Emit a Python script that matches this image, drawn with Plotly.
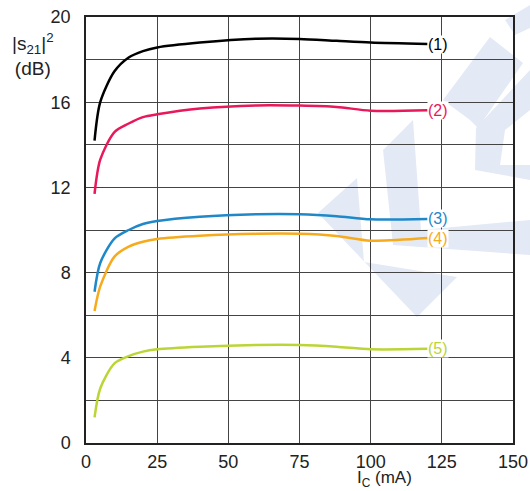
import plotly.graph_objects as go

# Data
ic = [3, 5, 10, 15, 20, 25, 40, 60, 75, 88, 100, 120]
s1 = [14.2, 16.0, 17.45, 18.1, 18.4, 18.57, 18.8, 18.98, 18.97, 18.88, 18.8, 18.73]
s2 = [11.7, 13.3, 14.6, 15.0, 15.3, 15.43, 15.7, 15.85, 15.84, 15.78, 15.6, 15.62]
s3 = [7.1, 8.45, 9.6, 10.0, 10.28, 10.42, 10.62, 10.74, 10.74, 10.65, 10.5, 10.52]
s4 = [6.2, 7.35, 8.75, 9.22, 9.45, 9.58, 9.73, 9.82, 9.82, 9.72, 9.5, 9.62]
s5 = [1.2, 2.56, 3.74, 4.08, 4.29, 4.4, 4.52, 4.6, 4.6, 4.52, 4.4, 4.42]
series = [s1, s2, s3, s4, s5]
labels = ["(1)", "(2)", "(3)", "(4)", "(5)"]
colors = ["#000000", "#e8185a", "#1f88c9", "#f7ab1c", "#bcd536"]
x_ticks = [0, 25, 50, 75, 100, 125, 150]
y_ticks = [0, 4, 8, 12, 16, 20]

FONT = "Liberation Sans, Arial, sans-serif"
fig = go.Figure()

# faint watermark (decoration), pixel -> paper conversion
L, R, T, B = 86, 513, 17, 443
def P(px, py):
    return (px - L) / (R - L), (B - py) / (B - T)

def path(pts):
    s = ""
    for i, (px, py) in enumerate(pts):
        x, y = P(px, py)
        s += ("M" if i == 0 else "L") + f"{x:.4f},{y:.4f} "
    return s + "Z"

wm = "#e3e9f5"
polys = [
    [(318, 213), (357, 178), (364, 262), (457, 277), (417, 317)],
    [(383, 150), (413, 120), (421, 230), (530, 220), (530, 255), (393, 245)],
    [(443, 100), (490, 37), (523, 63), (478, 128), (470, 120)],
    [(476, 128), (530, 70), (530, 110), (505, 130), (500, 165), (530, 165), (530, 180), (475, 170)],
    [(505, 20), (530, 5), (530, 28), (515, 35)],
]
for pl in polys:
    fig.add_shape(type="path", path=path(pl), xref="paper", yref="paper",
                  fillcolor=wm, line=dict(width=0), layer="below")

for ys, c, lab in zip(series, colors, labels):
    fig.add_trace(go.Scatter(x=ic, y=ys, mode="lines",
                             line=dict(color=c, width=2.5, shape="spline", smoothing=0.8),
                             showlegend=False, hoverinfo="skip"))
    fig.add_annotation(x=ic[-1] + 3.6, y=ys[-1], text=lab, showarrow=False,
                       font=dict(family=FONT, size=16, color=c),
                       bgcolor="white", borderpad=0, xanchor="center", yanchor="middle")

fig.add_annotation(xref="paper", yref="paper", x=-0.124, y=0.975, xanchor="center", yanchor="top",
                   text="|s<sub>21</sub>|<sup>2</sup><br>(dB)", showarrow=False, align="center",
                   font=dict(family=FONT, size=19, color="#222"))
fig.add_annotation(xref="x", yref="paper", x=105, y=-0.113, xanchor="center", yanchor="bottom",
                   text="I<sub>C</sub> (mA)", showarrow=False, borderpad=0,
                   font=dict(family=FONT, size=17, color="#222"))

axis_common = dict(showline=True, linecolor="#222", linewidth=1.5, mirror=True, automargin=False,
                   showgrid=True, gridcolor="#444", gridwidth=1, zeroline=False,
                   ticks="", tickfont=dict(family=FONT, size=18, color="#222"))
fig.update_xaxes(range=[0, 150], tickvals=x_ticks, ticklabelstandoff=2, **axis_common)
fig.update_yaxes(range=[0, 20], tickvals=y_ticks,
                 minor=dict(dtick=2, showgrid=True, gridcolor="#444", gridwidth=1),
                 ticklabelstandoff=10, **axis_common)

fig.update_layout(width=530, height=491, margin=dict(l=86, r=17, t=17, b=48, autoexpand=False),
                  plot_bgcolor="rgba(0,0,0,0)", paper_bgcolor="white")
fig.write_html("out.html")
